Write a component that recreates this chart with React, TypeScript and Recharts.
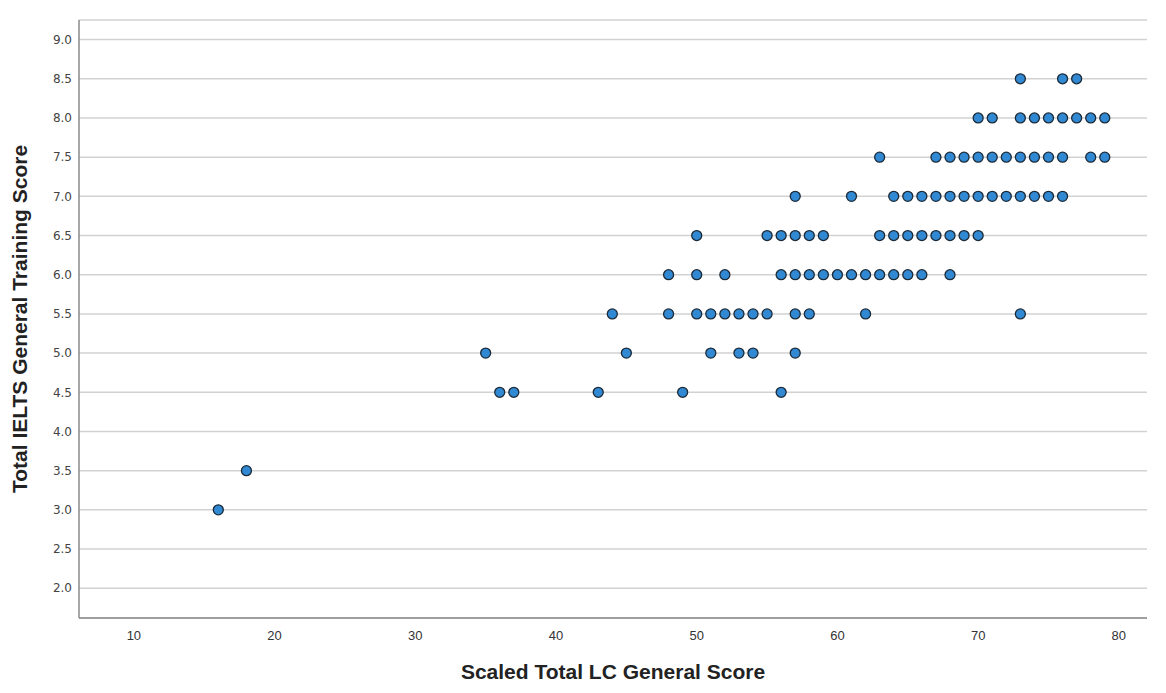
import { ScatterChart, Scatter, XAxis, YAxis, CartesianGrid } from 'recharts'

// LC scores found at each IELTS band
const band85 = [73, 76, 77]
const band80 = [70, 71, 73, 74, 75, 76, 77, 78, 79]
const band75 = [63, 67, 68, 69, 70, 71, 72, 73, 74, 75, 76, 78, 79]
const band70 = [57, 61, 64, 65, 66, 67, 68, 69, 70, 71, 72, 73, 74, 75, 76]
const band65 = [50, 55, 56, 57, 58, 59, 63, 64, 65, 66, 67, 68, 69, 70]
const band60 = [48, 50, 52, 56, 57, 58, 59, 60, 61, 62, 63, 64, 65, 66, 68]
const band55 = [44, 48, 50, 51, 52, 53, 54, 55, 57, 58, 62, 73]
const band50 = [35, 45, 51, 53, 54, 57]
const band45 = [36, 37, 43, 49, 56]
const band35 = [18]
const band30 = [16]

const bands: [number, number[]][] = [
  [8.5, band85],
  [8.0, band80],
  [7.5, band75],
  [7.0, band70],
  [6.5, band65],
  [6.0, band60],
  [5.5, band55],
  [5.0, band50],
  [4.5, band45],
  [3.5, band35],
  [3.0, band30],
]

const xTicks = [10, 20, 30, 40, 50, 60, 70, 80]
const yTicks = [2.0, 2.5, 3.0, 3.5, 4.0, 4.5, 5.0, 5.5, 6.0, 6.5, 7.0, 7.5, 8.0, 8.5, 9.0]

const points = bands.flatMap(([ielts, xs]) => xs.map(lc => ({ lc, ielts })))

const sans = '"Liberation Sans", Arial, sans-serif'
const wide = '"DejaVu Sans", Verdana, sans-serif'

const Dot = (props: any) => (
  <circle cx={props.cx} cy={props.cy} r={5} fill="#3089d2" stroke="#1c2a38" strokeWidth={1.3} />
)

export default function App() {
  return (
    <div style={{ position: 'absolute', left: 0, top: 0, background: '#fff' }}>
      <ScatterChart width={1166} height={693} margin={{ top: 20, right: 19, bottom: 0, left: 0 }}>
        <CartesianGrid horizontal vertical={false} stroke="#d2d2d2" strokeWidth={1.5} />
        <XAxis
          type="number"
          dataKey="lc"
          domain={[6.1, 82]}
          ticks={xTicks}
          height={75}
          tickSize={0}
          tickMargin={13}
          tickLine={false}
          axisLine={{ stroke: '#8a8a8a', strokeWidth: 1.5 }}
          tick={{ fill: '#333', fontSize: 13, fontFamily: sans }}
          label={{
            value: 'Scaled Total LC General Score',
            position: 'insideBottom',
            offset: 14,
            fill: '#222',
            fontSize: 21,
            fontWeight: 'bold',
            fontFamily: sans,
          }}
        />
        <YAxis
          type="number"
          dataKey="ielts"
          domain={[1.62, 9.25]}
          ticks={yTicks}
          width={79}
          tickSize={0}
          tickMargin={7}
          tickLine={false}
          tickFormatter={(v: number) => v.toFixed(1)}
          axisLine={{ stroke: '#8a8a8a', strokeWidth: 1.5 }}
          tick={{ fill: '#444', fontSize: 12, fontFamily: wide }}
          label={{
            value: 'Total  IELTS General Training Score',
            angle: -90,
            position: 'insideLeft',
            offset: 20,
            fill: '#222',
            fontSize: 21,
            fontWeight: 'bold',
            fontFamily: sans,
            style: { textAnchor: 'middle', whiteSpace: 'pre' },
          }}
        />
        <Scatter data={points} shape={<Dot />} isAnimationActive={false} />
      </ScatterChart>
    </div>
  )
}
